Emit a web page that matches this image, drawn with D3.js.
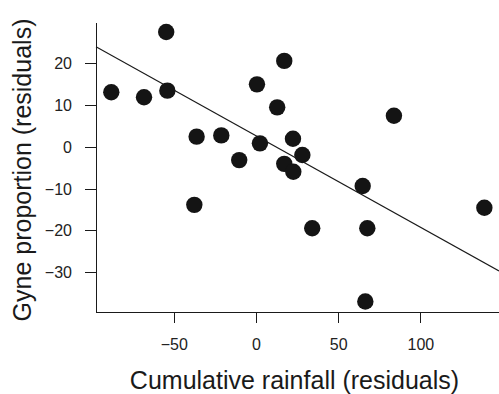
<!DOCTYPE html>
<html>
<head>
<meta charset="utf-8">
<script src="https://cdn.jsdelivr.net/npm/d3@7"></script>
<style>
    body { margin: 0; background: #fff; }
    svg { display: block; font-family: "Liberation Sans", Arial, Helvetica, sans-serif; }
    .axis path, .axis line { stroke: #1a1a1a; stroke-width: 1; shape-rendering: crispEdges; }
    .axis text { fill: #222; font-size: 16px; font-family: "Liberation Sans", Arial, Helvetica, sans-serif; }
    .title { fill: #1a1a1a; font-size: 25px; }
</style>
</head>
<body>
<div id="chart"></div>
<script>
// residual scatter values
var rainfall = [-88.0, -68.1, -54.6, -53.9, -36.1, -21.1, -10.2, -37.5, 0.6, 17.2, 12.9,
                2.4, 22.5, 28.2, 17.2, 22.7, 64.9, 83.9, 138.9, 34.2, 67.7, 66.5];
var gyne = [13.0, 11.8, 27.4, 13.4, 2.4, 2.7, -3.2, -13.9, 14.9, 20.5, 9.4,
            0.8, 1.9, -2.0, -4.1, -6.0, -9.4, 7.4, -14.6, -19.5, -19.5, -37.0];

// fitted line end points
var fitX = [-97.3, 147.8];
var fitY = [23.9, -29.7];

var xTicks = [-50, 0, 50, 100];
var yTicks = [-30, -20, -10, 0, 10, 20];

var xDomain = [-97.3, 147.8];
var yDomain = [-39.5, 29.8];

var svgWidth = 499, svgHeight = 394;
var plot = {left: 96, right: 499, top: 22, bottom: 312};

var svg = d3.select("#chart")
    .append("svg")
    .attr("width", svgWidth)
    .attr("height", svgHeight);

var x = d3.scaleLinear().domain(xDomain).range([plot.left, plot.right]);
var y = d3.scaleLinear().domain(yDomain).range([plot.bottom, plot.top]);

// Y axis
svg.append("g")
    .attr("class", "axis")
    .attr("transform", "translate(" + plot.left + ",0)")
    .call(d3.axisLeft(y)
        .tickValues(yTicks)
        .tickSize(11)
        .tickSizeOuter(0)
        .tickPadding(13))
    .selectAll("text")
    .attr("dy", "0.34em");

// X axis
svg.append("g")
    .attr("class", "axis")
    .attr("transform", "translate(0," + plot.bottom + ")")
    .call(d3.axisBottom(x)
        .tickValues(xTicks)
        .tickSize(11)
        .tickSizeOuter(0)
        .tickPadding(15.5));

// fitted line
var fit = fitX.map(function (d, i) { return {x: d, y: fitY[i]}; });
svg.append("path")
    .datum(fit)
    .attr("fill", "none")
    .attr("stroke", "#1a1a1a")
    .attr("stroke-width", 1.1)
    .attr("d", d3.line()
        .x(function (d) { return x(d.x); })
        .y(function (d) { return y(d.y); }));

// points
svg.append("g")
    .selectAll("circle")
    .data(rainfall)
    .enter()
    .append("circle")
    .attr("cx", function (d) { return x(d); })
    .attr("cy", function (d, i) { return y(gyne[i]); })
    .attr("r", 8.2)
    .attr("fill", "#141414");

// axis titles
svg.append("text")
    .attr("class", "title")
    .attr("x", 294.5)
    .attr("y", 389)
    .attr("text-anchor", "middle")
    .text("Cumulative rainfall (residuals)");

svg.append("text")
    .attr("class", "title")
    .attr("transform", "translate(30.5," + 170 + ") rotate(-90)")
    .attr("text-anchor", "middle")
    .text("Gyne proportion (residuals)");
</script>
</body>
</html>
